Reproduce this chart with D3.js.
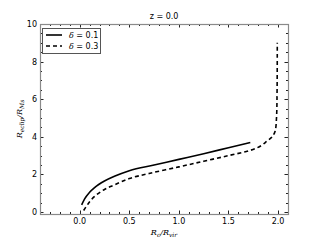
<!DOCTYPE html>
<html>
<head>
<meta charset="utf-8">
<script src="https://cdn.jsdelivr.net/npm/d3@7"></script>
<style>
  body { margin: 0; background: #fff; }
  text { font-family: "DejaVu Sans", sans-serif; }
  .math { font-family: "DejaVu Serif", serif; font-style: italic; }
</style>
</head>
<body>
<script>
var width = 320,
    height = 240;

var margin = {top: 24, right: 32, bottom: 26, left: 40};

// delta = 0.1 (solid)
var solidX = [0.02, 0.05, 0.1, 0.15, 0.25, 0.35, 0.5, 0.75, 1.0, 1.25, 1.5, 1.72];
var solidY = [0.38, 0.7, 1.05, 1.3, 1.65, 1.9, 2.2, 2.5, 2.8, 3.1, 3.42, 3.7];

// delta = 0.3 (dashed)
var dashX = [0.04, 0.08, 0.15, 0.25, 0.35, 0.5, 0.7, 1.0, 1.25, 1.5, 1.72, 1.82, 1.89, 1.94, 1.97, 1.984, 1.99, 1.992];
var dashY = [0.08, 0.4, 0.83, 1.2, 1.44, 1.78, 2.05, 2.4, 2.7, 3.0, 3.28, 3.5, 3.78, 4.0, 4.3, 5.0, 6.5, 9.0];

var xTicks = [0.0, 0.5, 1.0, 1.5, 2.0];
var yTicks = [0, 2, 4, 6, 8, 10];
var legendLabels = ["δ = 0.1", "δ = 0.3"];

var svg = d3.select('body')
  .append('svg')
  .attr('width', width)
  .attr('height', height);

var x = d3.scaleLinear()
  .domain([-0.4, 2.1])
  .range([margin.left, width - margin.right]);

var y = d3.scaleLinear()
  .domain([0, 10])
  .range([height - margin.bottom - 2, margin.top]);

var x0 = margin.left, x1 = width - margin.right;
var y0 = height - margin.bottom, y1 = margin.top;

// minor ticks
var xMinor = d3.range(-0.4, 2.1001, 0.1);
var yMinor = d3.range(0, 10.001, 0.5);

var ticks = svg.append('g').attr('stroke', '#222').attr('stroke-width', 1);

function tickLines(vals, len, isX) {
  vals.forEach(function(v) {
    if (isX) {
      var px = Math.round(x(v)) + 0.5;
      ticks.append('line').attr('x1', px).attr('x2', px).attr('y1', y0).attr('y2', y0 - len);
      ticks.append('line').attr('x1', px).attr('x2', px).attr('y1', y1).attr('y2', y1 + len);
    } else {
      var py = Math.round(y(v)) + 0.5;
      ticks.append('line').attr('y1', py).attr('y2', py).attr('x1', x0).attr('x2', x0 + len);
      ticks.append('line').attr('y1', py).attr('y2', py).attr('x1', x1).attr('x2', x1 - len);
    }
  });
}
tickLines(xMinor, 2, true);
tickLines(xTicks, 3.5, true);
tickLines(yMinor, 2, false);
tickLines(yTicks, 3.5, false);

// frame
svg.append('rect')
  .attr('x', x0 + 0.5).attr('y', y1 + 0.5)
  .attr('width', x1 - x0).attr('height', y0 - y1)
  .attr('fill', 'none')
  .attr('stroke', '#8a8a8a')
  .attr('stroke-width', 1.2);

// tick labels
svg.append('g').selectAll('text')
  .data(xTicks).enter().append('text')
  .attr('x', function(d) { return x(d); })
  .attr('y', y0 + 10)
  .attr('text-anchor', 'middle')
  .attr('font-size', 8)
  .text(function(d) { return d3.format('.1f')(d); });

svg.append('g').selectAll('text')
  .data(yTicks).enter().append('text')
  .attr('x', x0 - 3)
  .attr('y', function(d) { return y(d) + 3; })
  .attr('text-anchor', 'end')
  .attr('font-size', 8)
  .text(function(d) { return d; });

// curves
var line = d3.line()
  .x(function(d) { return x(d[0]); })
  .y(function(d) { return y(d[1]); })
  .curve(d3.curveMonotoneX);

var solidPts = d3.zip(solidX, solidY);
var dashPts = d3.zip(dashX, dashY);

svg.append('path')
  .attr('d', line(solidPts))
  .attr('fill', 'none')
  .attr('stroke', '#000')
  .attr('stroke-width', 1.6);

svg.append('path')
  .attr('d', d3.line()
    .x(function(d) { return x(d[0]); })
    .y(function(d) { return y(d[1]); })
    .curve(d3.curveCatmullRom)(dashPts))
  .attr('fill', 'none')
  .attr('stroke', '#000')
  .attr('stroke-width', 1.6)
  .attr('stroke-dasharray', '4,3');

// legend
var lg = svg.append('g');
lg.append('rect')
  .attr('x', 42.5).attr('y', 28.5)
  .attr('width', 58).attr('height', 25)
  .attr('fill', '#fff')
  .attr('stroke', '#555')
  .attr('stroke-width', 1);

legendLabels.forEach(function(lab, i) {
  var ly = 35 + i * 11;
  lg.append('line')
    .attr('x1', 46).attr('x2', 62)
    .attr('y1', ly).attr('y2', ly)
    .attr('stroke', '#000')
    .attr('stroke-width', 1.6)
    .attr('stroke-dasharray', i ? '4,3' : null);
  var t = lg.append('text').attr('x', 69).attr('y', ly + 3).attr('font-size', 8);
  t.append('tspan').attr('class', 'math').text('δ');
  t.append('tspan').text(lab.slice(1));
});

// title
svg.append('text')
  .attr('x', (x0 + x1) / 2)
  .attr('y', 19)
  .attr('text-anchor', 'middle')
  .attr('font-size', 8)
  .text('z = 0.0');

// x label
var xl = svg.append('text')
  .attr('class', 'math')
  .attr('x', (x0 + x1) / 2)
  .attr('y', 235)
  .attr('text-anchor', 'middle')
  .attr('font-size', 8);
xl.append('tspan').text('R');
xl.append('tspan').attr('font-size', 6).attr('dy', 2).text('c');
xl.append('tspan').attr('dy', -2).text('/R');
xl.append('tspan').attr('font-size', 6).attr('dy', 2).text('vir');

// y label
var yl = svg.append('text')
  .attr('class', 'math')
  .attr('transform', 'translate(22,' + ((y0 + y1) / 2) + ') rotate(-90)')
  .attr('text-anchor', 'middle')
  .attr('font-size', 8);
yl.append('tspan').text('R');
yl.append('tspan').attr('font-size', 6).attr('dy', 2).text('eclip');
yl.append('tspan').attr('dy', -2).text('/R');
yl.append('tspan').attr('font-size', 6).attr('dy', 2).text('Ms');
</script>
</body>
</html>
